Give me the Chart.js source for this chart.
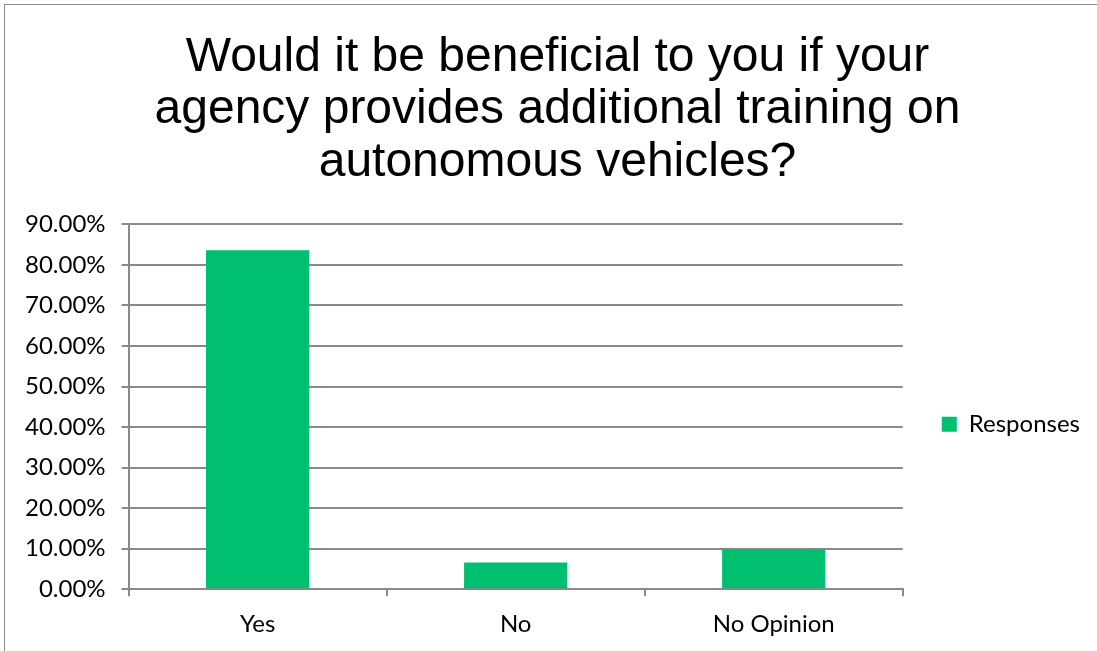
<!DOCTYPE html>
<html>
<head>
<meta charset="utf-8">
<script src="https://cdn.jsdelivr.net/npm/chart.js@4"></script>
<style>
  html, body { margin: 0; padding: 0; background: #fff; overflow: hidden; }
  #frame {
    position: absolute; left: 4px; top: 4px;
    width: 1106px; height: 660px;
    border-left: 1px solid #8a8a8a; border-top: 1px solid #8a8a8a;
    background: #fff;
  }
  #chart { display: block; }
</style>
</head>
<body>
<div id="frame"><canvas id="chart" width="1106" height="648"></canvas></div>
<script>
// Survey answers and their share of respondents (%)
const categories = ['Yes', 'No', 'No Opinion'];
const responses = [83.61, 6.56, 9.84];
const seriesName = 'Responses';
const titleLines = ['Would it be beneficial to you if your', 'agency provides additional training on', 'autonomous vehicles?'];
const yMax = 90;
const yStep = 10;

const barColor = '#00BF6F';
const lineColor = '#8a8a8a';
const labelFont = { family: 'Lato, "Open Sans", sans-serif', size: 24 };

new Chart(document.getElementById('chart'), {
  type: 'bar',
  data: {
    labels: categories,
    datasets: [{
      label: seriesName,
      data: responses,
      backgroundColor: barColor,
      borderWidth: 0,
      barPercentage: 0.4,
      categoryPercentage: 1.0
    }]
  },
  options: {
    responsive: false,
    animation: false,
    layout: { padding: { left: 20, right: 21, top: 26, bottom: 0 } },
    plugins: {
      title: {
        display: true,
        text: titleLines,
        color: '#000',
        font: { family: '"Liberation Sans", Arial, sans-serif', size: 48, weight: 'normal', lineHeight: 1.1 },
        padding: { top: 0, bottom: 35 }
      },
      legend: {
        position: 'right',
        title: {
          display: true,
          text: '',
          font: { size: 12 },
          padding: { top: 150, bottom: 0 }
        },
        labels: {
          color: '#000',
          font: labelFont,
          boxWidth: 15,
          boxHeight: 15,
          padding: 39
        }
      },
      tooltip: { enabled: false }
    },
    scales: {
      x: {
        offset: true,
        grid: {
          offset: true,
          drawOnChartArea: false,
          drawTicks: true,
          tickLength: 7,
          color: lineColor,
          lineWidth: 2
        },
        border: { color: lineColor, width: 2 },
        ticks: { color: '#000', font: labelFont, padding: 14 }
      },
      y: {
        min: 0,
        max: yMax,
        // labels are right-aligned; trim the unused outer padding of the axis box
        afterFit: scale => { scale.width -= 16; },
        grid: {
          color: lineColor,
          lineWidth: 2,
          drawTicks: true,
          tickLength: 7
        },
        border: { color: lineColor, width: 2 },
        ticks: {
          stepSize: yStep,
          color: '#000',
          font: labelFont,
          padding: 16,
          callback: v => v.toFixed(2) + '%'
        }
      }
    }
  }
});
</script>
</body>
</html>
